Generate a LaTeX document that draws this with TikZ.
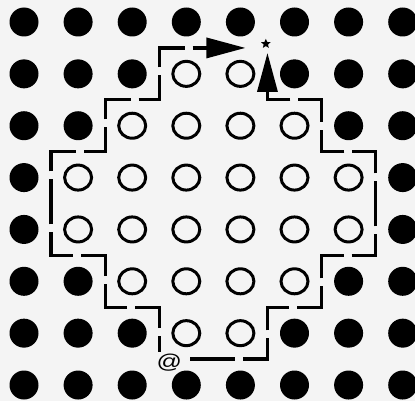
\documentclass[tikz,border=0pt]{standalone}
\usepackage{fontspec}
\setmainfont{Liberation Sans}
\usetikzlibrary{arrows.meta,shapes.geometric}
\definecolor{bg}{RGB}{244,244,244}
\begin{document}
\begin{tikzpicture}[
  ring/.style={draw=black, line width=3pt},
  border/.style={line width=3.3pt, dash pattern=on 45pt off 8pt, dash phase=22pt, line join=miter},
  tip/.style={-{Triangle[length=39pt,width=20pt]}}
]
\fill[bg] (0,0) rectangle (415pt,-401pt);
\useasboundingbox (0,0) rectangle (415pt,-401pt);
\begin{scope}[shift={(24pt,-22pt)}, x=54.1pt, y=-51.86pt]
  \coordinate (start) at (2.5,6.5);
  \coordinate (goal) at (4.5,0.5);
  % right-hand boundary path
  \draw[border, tip, shorten >=5pt] (start) -- (4.5,6.5) -- (4.5,5.5) -- (5.5,5.5) -- (5.5,4.5)
     -- (6.5,4.5) -- (6.5,2.5) -- (5.5,2.5) -- (5.5,1.5) -- (4.5,1.5) -- (goal);
  % left-hand boundary path
  \draw[border, tip, shorten >=22pt] (start) -- (2.5,5.5) -- (1.5,5.5) -- (1.5,4.5) -- (0.5,4.5)
     -- (0.5,2.5) -- (1.5,2.5) -- (1.5,1.5) -- (2.5,1.5) -- (2.5,0.5) -- (goal);
  \node[fill=bg, inner sep=2pt, font=\fontsize{20}{20}\selectfont] (atsign)
     at ([xshift=10pt,yshift=-4pt]start) {\scalebox{1.25}[1]{@}};
  % dots
  \foreach \j/\lo in {0/9,1/3,2/2,3/1,4/1,5/2,6/3,7/9} {
    \foreach \i in {0,...,7} {
      \pgfmathtruncatemacro\isopen{and(\i>=\lo, \i<=7-\lo)}
      \ifnum\isopen=1
        \draw[ring] (\i,\j) ellipse [x radius=13.5pt, y radius=12.5pt];
      \else
        \fill[black] (\i,\j) circle [radius=14.5pt];
      \fi
    }
  }
  \node[star, star points=5, star point ratio=2.2, fill=black, inner sep=0pt, minimum size=10pt] (starmark) at (4.47,0.42) {};
\end{scope}
\end{tikzpicture}
\end{document}
